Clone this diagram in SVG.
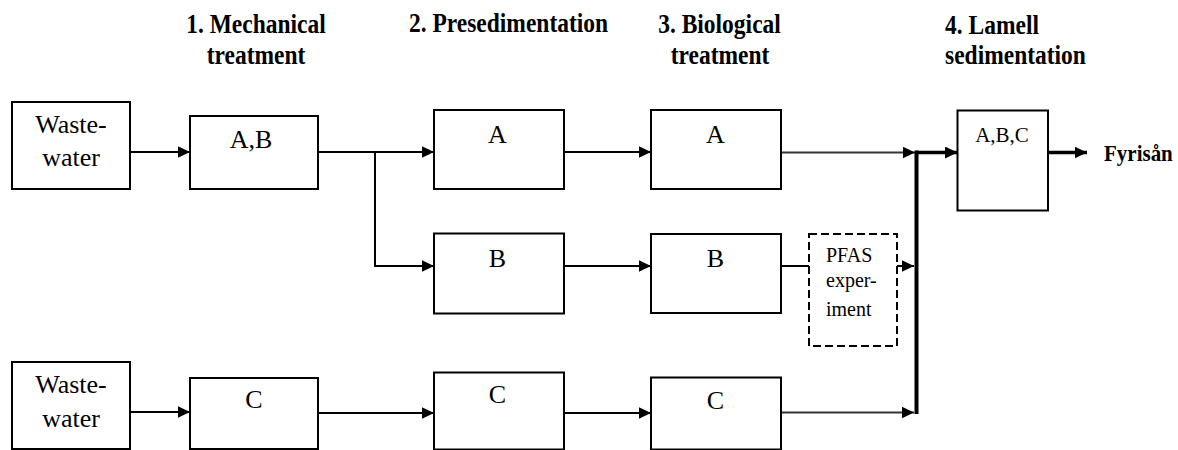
<svg xmlns="http://www.w3.org/2000/svg" width="1178" height="450" viewBox="0 0 1178 450">
<style>
.box{fill:#fff;stroke:#000;stroke-width:2}
.dash{fill:#fff;stroke:#000;stroke-width:2;stroke-dasharray:8 4}
.t{font-family:"Liberation Serif","Times New Roman",serif;font-size:26px;fill:#000;text-anchor:middle}
.s{font-family:"Liberation Serif","Times New Roman",serif;font-size:20px;fill:#000;text-anchor:start}
.h{font-family:"Liberation Serif","Times New Roman",serif;font-size:23.5px;font-weight:bold;fill:#000;text-anchor:middle}
.hs{font-family:"Liberation Serif","Times New Roman",serif;font-size:23.5px;font-weight:bold;fill:#000;text-anchor:start}
.ln{fill:none;stroke:#000;stroke-width:2}
.gl{fill:none;stroke:#333;stroke-width:2.2}
.tk{fill:none;stroke:#000;stroke-width:3.5}
</style>
<defs>
<marker id="ah" markerUnits="userSpaceOnUse" markerWidth="13" markerHeight="12" refX="12.5" refY="6" orient="auto">
<path d="M0,0 L12.5,6 L0,12 z" fill="#000"/>
</marker>
</defs>
<rect width="1178" height="450" fill="#fff"/>
<g id="headers">
<text class="h" transform="translate(256,33) scale(1,1.12)">1. Mechanical</text>
<text class="h" transform="translate(256,64) scale(1,1.12)">treatment</text>
<text class="h" transform="translate(508.5,32) scale(1,1.12)">2. Presedimentation</text>
<text class="h" transform="translate(719.5,33) scale(1,1.12)">3. Biological</text>
<text class="h" transform="translate(720,64) scale(1,1.12)">treatment</text>
<text class="hs" transform="translate(945,34) scale(1,1.12)">4. Lamell</text>
<text class="hs" transform="translate(945,64) scale(1,1.12)">sedimentation</text>
</g>
<g id="connectors">
<path class="ln" d="M130,152 H190" marker-end="url(#ah)"/>
<path class="ln" d="M318,152 H434" marker-end="url(#ah)"/>
<path class="ln" d="M375,152 V266 H434" marker-end="url(#ah)"/>
<path class="ln" d="M564,152 H651" marker-end="url(#ah)"/>
<path class="gl" d="M781,152.5 H915" marker-end="url(#ah)"/>
<path class="ln" d="M564,266 H651" marker-end="url(#ah)"/>
<path class="ln" d="M781,266 H809"/>
<path class="ln" d="M897,266 H914" marker-end="url(#ah)"/>
<path class="ln" d="M130,412 H190" marker-end="url(#ah)"/>
<path class="ln" d="M318,413 H434" marker-end="url(#ah)"/>
<path class="ln" d="M564,413 H651" marker-end="url(#ah)"/>
<path class="gl" d="M781,412.5 H914" marker-end="url(#ah)"/>
<path class="tk" style="stroke-width:4" d="M916.5,150.5 V414"/>
<path class="tk" d="M916,152.5 H957.5" marker-end="url(#ah)"/>
<path class="tk" d="M1048,152.5 H1087" marker-end="url(#ah)"/>
</g>
<g id="waste1">
<rect class="box" x="12" y="102" width="118" height="87"/>
<text class="t" x="71" y="133">Waste-</text>
<text class="t" x="71" y="166">water</text>
</g>
<g id="mechAB">
<rect class="box" x="190" y="116" width="128" height="73"/>
<text class="t" x="251" y="148">A,B</text>
</g>
<g id="preA">
<rect class="box" x="434" y="110" width="130" height="79"/>
<text class="t" x="497.5" y="143">A</text>
</g>
<g id="bioA">
<rect class="box" x="651" y="110" width="130" height="79"/>
<text class="t" x="715.5" y="143">A</text>
</g>
<g id="lamell">
<rect class="box" x="957.5" y="110.5" width="90.5" height="100"/>
<text class="t" x="1002" y="142" style="font-size:21px">A,B,C</text>
</g>
<g id="fyrisan">
<text class="hs" transform="translate(1104,161) scale(1,1.12)" style="font-size:21px">Fyrisån</text>
</g>
<g id="preB">
<rect class="box" x="434" y="233.5" width="130" height="80"/>
<text class="t" x="497.5" y="267">B</text>
</g>
<g id="bioB">
<rect class="box" x="651" y="234" width="130" height="79"/>
<text class="t" x="715.5" y="267">B</text>
</g>
<g id="pfas">
<rect class="dash" x="809" y="234" width="88" height="112"/>
<text class="s" x="826" y="262">PFAS</text>
<text class="s" x="826" y="287">exper-</text>
<text class="s" x="826" y="316">iment</text>
</g>
<g id="waste2">
<rect class="box" x="12" y="362" width="118" height="87"/>
<text class="t" x="71" y="393">Waste-</text>
<text class="t" x="71" y="427">water</text>
</g>
<g id="mechC">
<rect class="box" x="190" y="378" width="128" height="71"/>
<text class="t" x="254" y="408">C</text>
</g>
<g id="preC">
<rect class="box" x="434" y="372.5" width="130" height="77"/>
<text class="t" x="497.5" y="403">C</text>
</g>
<g id="bioC">
<rect class="box" x="651" y="377.5" width="130" height="72"/>
<text class="t" x="715.5" y="409">C</text>
</g>
</svg>
